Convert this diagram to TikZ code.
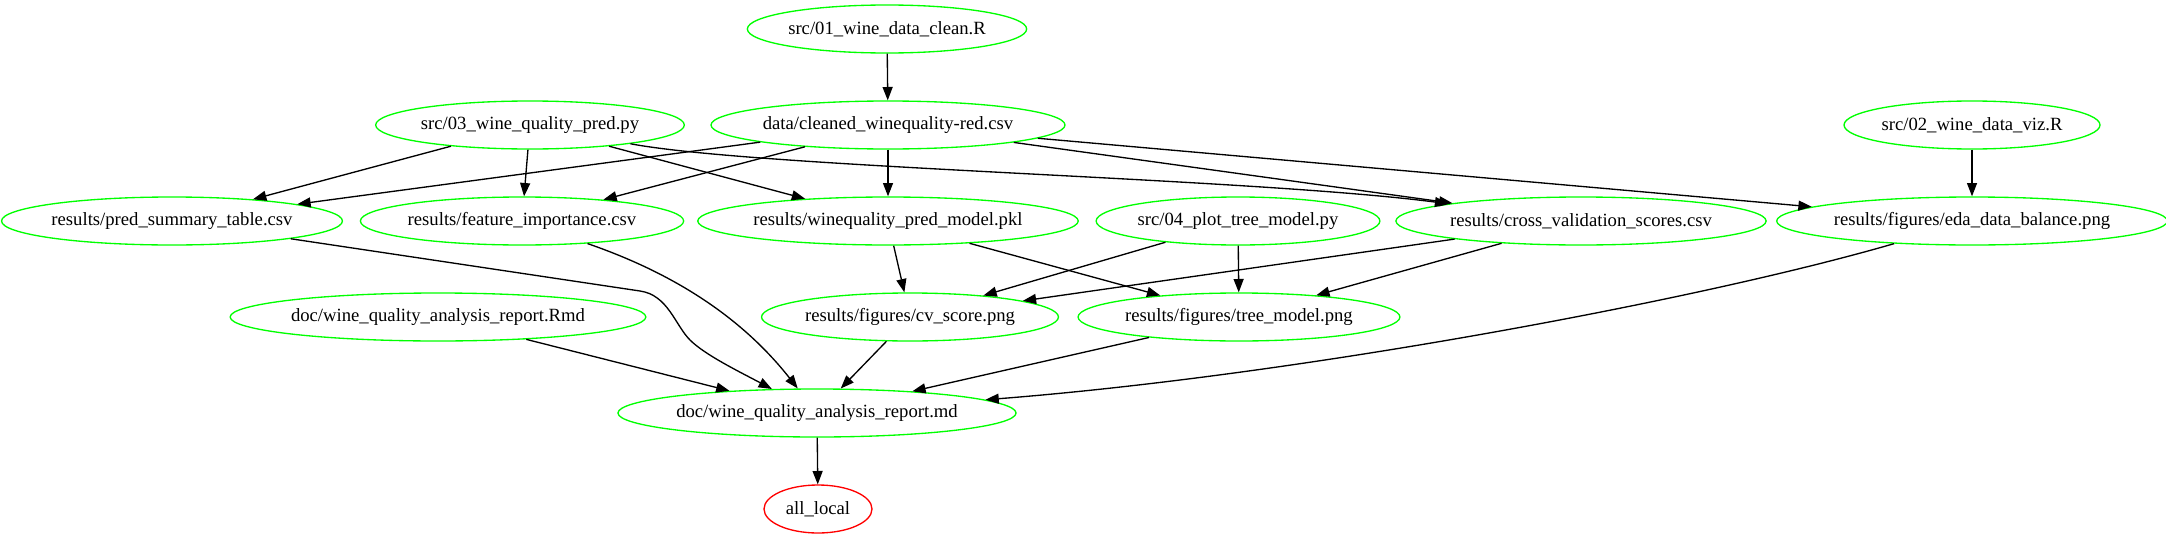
\documentclass[tikz,border=0pt]{standalone}
\usepackage{fontspec}
\setmainfont{Liberation Serif}
\usetikzlibrary{shapes.geometric,arrows.meta}
\definecolor{gvgreen}{RGB}{0,255,0}
\definecolor{gvred}{RGB}{255,0,0}
\begin{document}
\begin{tikzpicture}[x=0.75pt,y=-0.75pt,
  gvnode/.style={ellipse,draw=gvgreen,line width=1pt,minimum height=36pt,inner sep=0pt,
    font=\fontsize{14pt}{16pt}\selectfont},
  gvtarget/.style={ellipse,draw=gvred,line width=1pt,minimum height=36pt,inner sep=0pt,
    font=\fontsize{14pt}{16pt}\selectfont},
  gvedge/.style={line width=1pt,-{Triangle[length=10pt,width=7.5pt]}}]
\useasboundingbox[fill=white] (0,0) rectangle (2166,539);
% nodes
\node[gvnode,minimum width=205.5pt] (src01) at (887,29) {src/01\_wine\_data\_clean.R};
\node[gvnode,minimum width=228pt] (src03) at (530,125) {src/03\_wine\_quality\_pred.py};
\node[gvnode,minimum width=258pt] (clean) at (888,125) {data/cleaned\_winequality-red.csv};
\node[gvnode,minimum width=192pt] (src02) at (1972,125) {src/02\_wine\_data\_viz.R};
\node[gvnode,minimum width=249pt] (pst) at (172,221) {results/pred\_summary\_table.csv};
\node[gvnode,minimum width=238.5pt] (fi) at (522,221) {results/feature\_importance.csv};
\node[gvnode,minimum width=276pt] (model) at (888,221) {results/winequality\_pred\_model.pkl};
\node[gvnode,minimum width=211.5pt] (src04) at (1238,221) {src/04\_plot\_tree\_model.py};
\node[gvnode,minimum width=267pt] (cvs) at (1581,221) {results/cross\_validation\_scores.csv};
\node[gvnode,minimum width=282pt] (eda) at (1972,221) {results/figures/eda\_data\_balance.png};
\node[gvnode,minimum width=298.5pt] (rmd) at (438,317) {doc/wine\_quality\_analysis\_report.Rmd};
\node[gvnode,minimum width=219pt] (cvpng) at (910,317) {results/figures/cv\_score.png};
\node[gvnode,minimum width=234pt] (tree) at (1239,317) {results/figures/tree\_model.png};
\node[gvnode,minimum width=288pt] (md) at (817,413) {doc/wine\_quality\_analysis\_report.md};
\node[gvtarget,minimum width=81pt] (all) at (818,509) {all\_local};
\coordinate (bend) at (640,291);
% edges
\draw[gvedge] (src01) -- (clean);
\draw[gvedge] (src03) -- (pst);
\draw[gvedge] (src03) -- (fi);
\draw[gvedge] (src03) -- (model);
\draw[gvedge] (src03) .. controls (760,168) and (1250,178) .. (cvs);
\draw[gvedge] (clean) -- (pst);
\draw[gvedge] (clean) -- (fi);
\draw[gvedge] (clean) -- (model);
\draw[gvedge] (clean) -- (cvs);
\draw[gvedge] (clean) -- (eda);
\draw[gvedge] (src02) -- (eda);
\draw[gvedge] (pst) -- (bend) .. controls (668,295) and (675,325) .. (690,340) .. controls (705,355) and (740,372) .. (md);
\draw[gvedge] (fi) .. controls (670,272) and (740,315) .. (md);
\draw[gvedge] (model) -- (cvpng);
\draw[gvedge] (model) -- (tree);
\draw[gvedge] (src04) -- (cvpng);
\draw[gvedge] (src04) -- (tree);
\draw[gvedge] (cvs) -- (cvpng);
\draw[gvedge] (cvs) -- (tree);
\draw[gvedge] (eda) .. controls (1700,300) and (1300,375) .. (md);
\draw[gvedge] (rmd) -- (md);
\draw[gvedge] (cvpng) -- (md);
\draw[gvedge] (tree) -- (md);
\draw[gvedge] (md) -- (all);
\end{tikzpicture}
\end{document}
